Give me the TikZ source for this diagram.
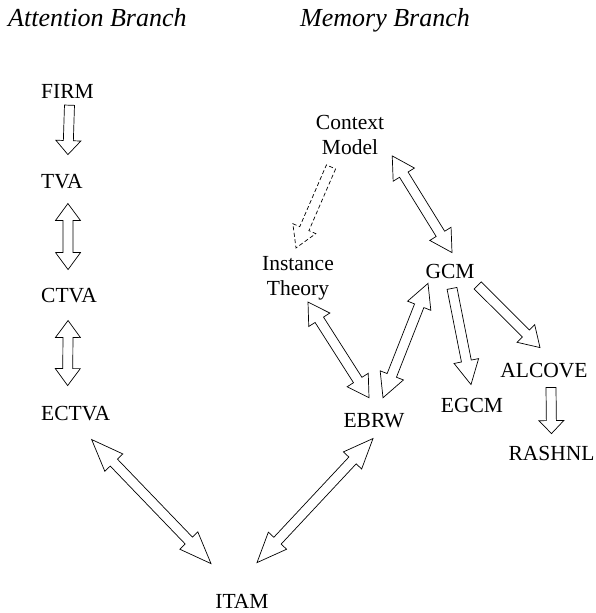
\documentclass[tikz,border=0pt]{standalone}
\usepackage{fontspec}
\setmainfont{Liberation Serif}
\usetikzlibrary{calc}
\def\arrshaft{5pt}
\def\arrhead{12.5pt}
% hollow block arrow: [style]{head length}{from}{to}
\newcommand\harrow[4][]{%
  \coordinate (ha) at (#3); \coordinate (hb) at (#4);
  \coordinate (hc) at ($(hb)!#2!(ha)$);
  \draw[blockarrow,#1] ($(ha)!\arrshaft!90:(hb)$) -- ($(hc)!\arrshaft!90:(hb)$)
    -- ($(hc)!\arrhead!90:(hb)$) -- (hb) -- ($(hc)!\arrhead!-90:(hb)$)
    -- ($(hc)!\arrshaft!-90:(hb)$) -- ($(ha)!\arrshaft!-90:(hb)$) -- cycle;}
\newcommand\hdarrow[4][]{%
  \coordinate (ha) at (#3); \coordinate (hb) at (#4);
  \coordinate (hc) at ($(hb)!#2!(ha)$); \coordinate (hd) at ($(ha)!#2!(hb)$);
  \draw[blockarrow,#1] (ha) -- ($(hd)!\arrhead!90:(hb)$) -- ($(hd)!\arrshaft!90:(hb)$)
    -- ($(hc)!\arrshaft!90:(hb)$) -- ($(hc)!\arrhead!90:(hb)$) -- (hb)
    -- ($(hc)!\arrhead!-90:(hb)$) -- ($(hc)!\arrshaft!-90:(hb)$)
    -- ($(hd)!\arrshaft!-90:(hb)$) -- ($(hd)!\arrhead!-90:(hb)$) -- cycle;}

\begin{document}
\begin{tikzpicture}[x=1pt,y=-1pt,
    model/.style={font=\fontsize{21.5}{25}\selectfont,inner sep=0pt},
    branch/.style={font=\fontsize{26}{30}\selectfont\itshape,inner sep=0pt,anchor=base west},
    blockarrow/.style={draw=black,line width=0.7pt,fill=white,line join=miter},
    dashed arrow/.style={dash pattern=on 4pt off 2.5pt}]
    \useasboundingbox (0,0) rectangle (596,613);
    \node[branch] (attn) at (8,27) {Attention Branch};
    \node[branch] (mem) at (300,27) {Memory Branch};

    \node[model,anchor=base west] (firm) at (41,98) {FIRM};
    \node[model,anchor=base west] (tva) at (41,188) {TVA};
    \node[model,anchor=base west] (ctva) at (41,302) {CTVA};
    \node[model,anchor=base west] (ectva) at (41,420) {ECTVA};
    \node[model,align=center] (ctx) at (350,135) {Context\\Model};
    \node[model,align=center] (inst) at (298,278) {Instance\\Theory};
    \node[model,anchor=base] (gcm) at (450,278) {GCM};
    \node[model,anchor=base] (ebrw) at (374,427) {EBRW};
    \node[model,anchor=base] (egcm) at (472,412) {EGCM};
    \node[model,anchor=base] (alcove) at (544,377) {ALCOVE};
    \node[model,anchor=base] (rashnl) at (551.5,460) {RASHNL};
    \node[model,anchor=base] (itam) at (242,608) {ITAM};

    \harrow{14pt}{[shift={(2,7)}]firm.south}{[shift={(6,-19)}]tva.north}
    \hdarrow{17pt}{[shift={(6,15)}]tva.south}{[shift={(-1,-18)}]ctva.north}
    \hdarrow{17pt}{[shift={(-1,18)}]ctva.south}{[shift={(-8,-20)}]ectva.north}
    \hdarrow{32pt}{[shift={(16,19)}]ectva.south}{[shift={(-31,-30)}]itam.north}
    \hdarrow{30pt}{[shift={(-1,11)}]ebrw.south}{[shift={(15,-31)}]itam.north}
    \harrow[dashed arrow]{21pt}{[shift={(-19,12)}]ctx.south}{[shift={(-2,-8)}]inst.north}
    \hdarrow{22pt}{[shift={(8,1)}]ctx.south east}{[shift={(2,-11)}]gcm.north}
    \hdarrow{21pt}{[shift={(10,2)}]inst.south}{[shift={(-5,-15)}]ebrw.north}
    \hdarrow{24pt}{[shift={(9,-15)}]ebrw.north}{[shift={(-22,5)}]gcm.south}
    \harrow{24pt}{[shift={(2,10)}]gcm.south}{[shift={(-1,-13)}]egcm.north}
    \harrow{20pt}{[shift={(3,7)}]gcm.south east}{[shift={(-4,-15)}]alcove.north}
    \harrow{13pt}{[shift={(7,10)}]alcove.south}{[shift={(0,-12)}]rashnl.north}
\end{tikzpicture}
\end{document}
